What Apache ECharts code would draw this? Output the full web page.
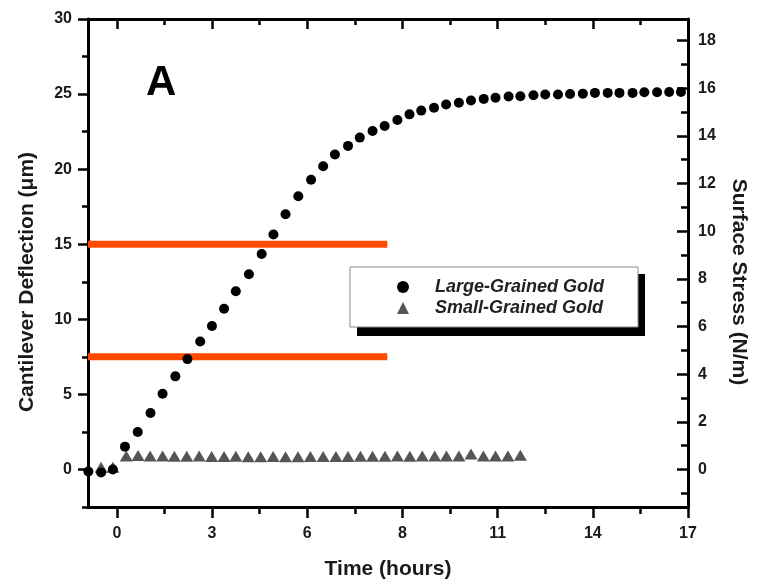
<!DOCTYPE html>
<html>
<head>
<meta charset="utf-8">
<script src="https://cdn.jsdelivr.net/npm/echarts@6/dist/echarts.min.js"></script>
<style>
html,body{margin:0;padding:0;background:#fff;}
#chart{width:757px;height:585px;}
</style>
</head>
<body>
<div id="chart"></div>
<script>
// ---- data ----
var largeX = [-0.85,-0.47,-0.12,0.24,0.62,1.00,1.36,1.74,2.10,2.48,2.83,3.19,3.54,3.93,4.31,4.66,5.02,5.40,5.78,6.14,6.49,6.88,7.23,7.61,7.97,8.35,8.71,9.06,9.44,9.80,10.18,10.54,10.92,11.27,11.66,12.01,12.40,12.75,13.13,13.49,13.87,14.23,14.61,14.96,15.35,15.70,16.08,16.44,16.79];
var largeY = [-0.13,-0.2,0.0,1.52,2.5,3.76,5.04,6.2,7.35,8.52,9.56,10.7,11.87,13.0,14.35,15.65,17.0,18.2,19.3,20.19,20.98,21.55,22.1,22.54,22.87,23.27,23.65,23.9,24.09,24.3,24.42,24.57,24.68,24.75,24.84,24.86,24.92,24.97,24.97,25.01,25.03,25.08,25.08,25.08,25.08,25.12,25.12,25.14,25.14];
var smallX = [-0.47,-0.12,0.28,0.63,0.99,1.36,1.71,2.08,2.45,2.82,3.19,3.54,3.91,4.28,4.65,5.02,5.39,5.76,6.14,6.52,6.88,7.25,7.61,7.98,8.35,8.72,9.09,9.46,9.81,10.18,10.54,10.91,11.27,11.64,12.01];
var smallY = [0.15,0.15,0.9,0.93,0.9,0.9,0.88,0.88,0.9,0.87,0.87,0.88,0.85,0.85,0.87,0.85,0.85,0.87,0.87,0.87,0.87,0.88,0.88,0.88,0.9,0.88,0.9,0.9,0.9,0.9,1.03,0.9,0.9,0.9,0.95];
var refLevels = [15, 7.5];
var refXStart = -0.86;
var refXEnd = 8.05;

var xTickValues = [0, 2.833, 5.667, 8.5, 11.333, 14.167, 17];
var xTickLabels = ['0', '3', '6', '8', '11', '14', '17'];
var xMinorValues = [1.417, 4.25, 7.083, 9.917, 12.75, 15.583];
var yLeftTicks = [0, 5, 10, 15, 20, 25, 30];
var yLeftMinor = [-2.5, 2.5, 7.5, 12.5, 17.5, 22.5, 27.5];
var yRightTicks = [0, 2, 4, 6, 8, 10, 12, 14, 16, 18];
var yRightMinor = [-1, 1, 3, 5, 7, 9, 11, 13, 15, 17];

var xMin = -0.86, xMax = 17;
var yMin = -2.5, yMax = 30;
var stressPerMicron = 1 / 1.5873;

function pairs(xs, ys) { return xs.map(function (x, i) { return [x, ys[i]]; }); }

var FONT = 'Liberation Sans';
var lineStyle = { color: '#000', width: 3 };
var tickStyle = { color: '#000', width: 2.5 };
var nameStyle = { color: '#1a1a1a', fontSize: 21, fontWeight: 'bold', fontFamily: FONT };
function labelOpts(extra) {
  var o = { show: true, color: '#1a1a1a', fontSize: 16, fontWeight: 'bold', fontFamily: FONT };
  for (var k in extra) o[k] = extra[k];
  return o;
}

function axisBase(extra) {
  var o = { type: 'value', splitLine: { show: false }, axisLine: { show: false, onZero: false }, axisLabel: { show: false }, axisTick: { show: false } };
  for (var k in extra) o[k] = extra[k];
  return o;
}

var chart = echarts.init(document.getElementById('chart'), null, { renderer: 'canvas' });

var refSeries = refLevels.map(function (lv, i) {
  return {
    name: 'ref' + i, type: 'line', xAxisIndex: 0, yAxisIndex: 0,
    data: [[refXStart, lv], [refXEnd, lv]], symbol: 'none',
    lineStyle: { color: '#ff4a00', width: 7 }, z: 1, silent: true
  };
});

chart.setOption({
  animation: false,
  backgroundColor: '#fff',
  title: {
    text: 'A', left: 141, top: 57,
    textStyle: { fontSize: 42, fontWeight: 900, fontFamily: FONT, color: '#000' }
  },
  grid: { left: 88, right: 65, top: 19, bottom: 75, containLabel: false },
  graphic: [{
    type: 'rect', left: 357, top: 274, z: 99, silent: true,
    shape: { width: 288, height: 62 },
    style: { fill: '#000' }
  }],
  legend: {
    data: ['Large-Grained Gold', 'Small-Grained Gold'],
    orient: 'vertical', left: 350, top: 267, z: 100,
    itemWidth: 12, itemHeight: 12, itemGap: 3,
    padding: [11, 34, 10, 47],
    backgroundColor: '#fff', borderColor: '#888', borderWidth: 1,
    textStyle: { fontSize: 18, fontWeight: 'bold', fontStyle: 'italic', fontFamily: FONT, color: '#222', padding: [0, 0, 0, 21] },
    selectedMode: false
  },
  xAxis: [
    axisBase({ position: 'bottom', min: xMin, max: xMax,
      name: 'Time (hours)', nameLocation: 'middle', nameGap: 52, nameTextStyle: nameStyle,
      axisLine: { show: true, lineStyle: lineStyle, onZero: false },
      axisTick: { show: true, inside: false, length: 11, customValues: xTickValues, lineStyle: tickStyle },
      axisLabel: labelOpts({ margin: 19, customValues: xTickValues, formatter: function (v) {
        var i = xTickValues.indexOf(v); return i >= 0 ? xTickLabels[i] : ''; } }) }),
    axisBase({ position: 'bottom', min: xMin, max: xMax,
      axisTick: { show: true, inside: false, length: 7, customValues: xMinorValues, lineStyle: tickStyle } }),
    axisBase({ position: 'top', min: xMin, max: xMax,
      axisLine: { show: true, lineStyle: lineStyle, onZero: false },
      axisTick: { show: true, inside: true, length: 10, customValues: xTickValues, lineStyle: tickStyle } }),
    axisBase({ position: 'top', min: xMin, max: xMax,
      axisTick: { show: true, inside: true, length: 6, customValues: xMinorValues, lineStyle: tickStyle } })
  ],
  yAxis: [
    axisBase({ position: 'left', min: yMin, max: yMax,
      name: 'Cantilever Deflection (\u03bcm)', nameLocation: 'middle', nameGap: 50, nameRotate: 90,
      nameTextStyle: Object.assign({}, nameStyle, { padding: [0, 38, 0, 0] }),
      axisLine: { show: true, lineStyle: lineStyle, onZero: false },
      axisTick: { show: true, inside: false, length: 10, customValues: yLeftTicks, lineStyle: tickStyle },
      axisLabel: labelOpts({ margin: 16, customValues: yLeftTicks }) }),
    axisBase({ position: 'left', min: yMin, max: yMax,
      axisTick: { show: true, inside: false, length: 6, customValues: yLeftMinor, lineStyle: tickStyle } }),
    axisBase({ position: 'right', min: yMin * stressPerMicron, max: yMax * stressPerMicron,
      name: 'Surface Stress (N/m)', nameLocation: 'middle', nameGap: 40, nameRotate: -90,
      nameTextStyle: Object.assign({}, nameStyle, { padding: [0, 0, 0, 38] }),
      axisLine: { show: true, lineStyle: lineStyle, onZero: false },
      axisTick: { show: true, inside: true, length: 11, customValues: yRightTicks, lineStyle: tickStyle },
      axisLabel: labelOpts({ margin: 10, customValues: yRightTicks }) }),
    axisBase({ position: 'right', min: yMin * stressPerMicron, max: yMax * stressPerMicron,
      axisTick: { show: true, inside: true, length: 7, customValues: yRightMinor, lineStyle: tickStyle } })
  ],
  series: refSeries.concat([
    {
      name: 'Large-Grained Gold', type: 'scatter', xAxisIndex: 0, yAxisIndex: 0,
      symbol: 'circle', symbolSize: 10, itemStyle: { color: '#000', opacity: 1 },
      data: pairs(largeX, largeY), z: 3
    },
    {
      name: 'Small-Grained Gold', type: 'scatter', xAxisIndex: 0, yAxisIndex: 0,
      symbol: 'triangle', symbolSize: [13, 11], itemStyle: { color: '#555', opacity: 1 },
      data: pairs(smallX, smallY), z: 2
    }
  ])
});
</script>
</body>
</html>
